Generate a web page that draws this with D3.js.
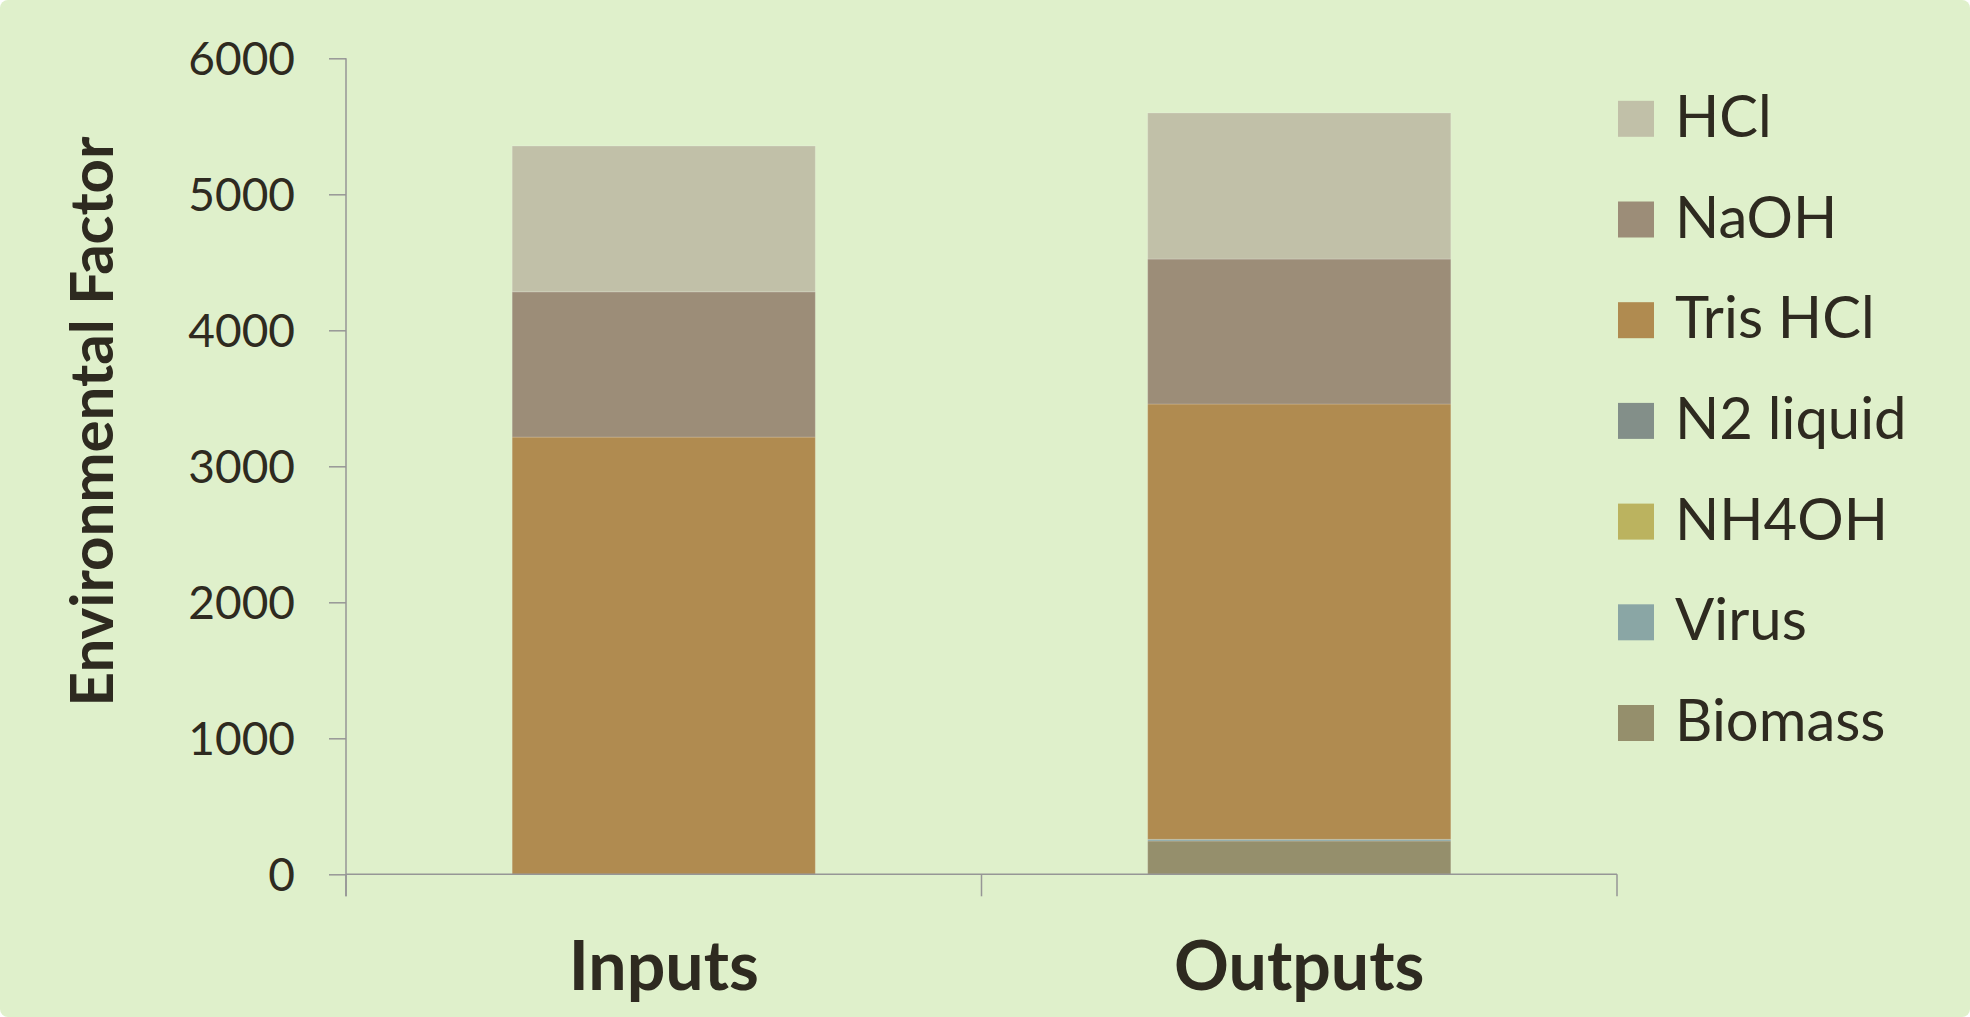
<!DOCTYPE html>
<html>
<head>
<meta charset="utf-8">
<script src="https://cdn.jsdelivr.net/npm/d3@7"></script>
<style>
  html, body { margin: 0; padding: 0; background: #ffffff; }
  svg { display: block; }
  text { font-family: Lato, "Open Sans", sans-serif; fill: #2e2a20; }
</style>
</head>
<body>
<script>
// ---- data ----
const categories = ["Inputs", "Outputs"];
const seriesNames = ["Biomass", "Virus", "NH4OH", "N2 liquid", "Tris HCl", "NaOH", "HCl"];
const biomass  = [0, 245];
const virus    = [0, 12];
const nh4oh    = [0, 0];
const n2liquid = [0, 0];
const trisHCl  = [3215, 3201];
const naoh     = [1068, 1066];
const hcl      = [1072, 1074];
const yTicks   = [0, 1000, 2000, 3000, 4000, 5000, 6000];
const seriesColors = ["#958f6c", "#8aa6a5", "#bbb35f", "#838f89", "#b08b50", "#9c8d78", "#c1c0a8"];

const W = 1970, H = 1017;
const svg = d3.select("body").append("svg").attr("width", W).attr("height", H);

svg.append("rect").attr("x", 0).attr("y", 0).attr("width", W).attr("height", H)
  .attr("rx", 8).attr("fill", "#dff0cb");

const values = [biomass, virus, nh4oh, n2liquid, trisHCl, naoh, hcl];
const rows = categories.map((c, i) => {
  const r = { category: c };
  seriesNames.forEach((s, k) => { r[s] = values[k][i]; });
  return r;
});
const stack = d3.stack().keys(seriesNames)(rows);

const x = d3.scaleBand().domain(categories).range([346, 1617])
  .paddingInner(0.523).paddingOuter(0.2615);
const y = d3.scaleLinear().domain([0, 6000]).range([874.3, 58.3]);
const color = d3.scaleOrdinal().domain(seriesNames).range(seriesColors);

// bars
const g = svg.append("g");
g.selectAll("g.series").data(stack).join("g")
  .attr("fill", d => color(d.key))
  .selectAll("rect").data(d => d).join("rect")
  .attr("x", d => x(d.data.category))
  .attr("width", x.bandwidth())
  .attr("y", d => y(d[1]))
  .attr("height", d => Math.max(0, y(d[0]) - y(d[1])))
  .attr("stroke", "#ffffff").attr("stroke-opacity", 0.18).attr("stroke-width", 1);

const axisColor = "#969696";

// y axis
const yAxis = svg.append("g").attr("transform", "translate(346,0)")
  .call(d3.axisLeft(y).tickValues(yTicks).tickFormat(d3.format("d")).tickSize(17).tickPadding(34));
yAxis.select(".domain").attr("stroke", axisColor).attr("stroke-width", 1.5)
  .attr("d", `M0,${y(6000)}V${y(0) + 22}`);
yAxis.selectAll(".tick line").attr("stroke", axisColor).attr("stroke-width", 1.5);
yAxis.selectAll(".tick text").style("font-size", "46px").attr("dy", "0.36em");

// x axis
const xEdges = [346, 346 + x.step(), 1617];
const xAxis = svg.append("g").attr("transform", `translate(0,${y(0)})`)
  .call(d3.axisBottom(x).tickSize(0).tickPadding(0).tickFormat(""));
xAxis.select(".domain").attr("stroke", axisColor).attr("stroke-width", 1.5)
  .attr("d", `M346,0H1617`);
xAxis.selectAll(".tick").remove();
xAxis.selectAll("line.edge").data(xEdges).join("line").attr("class", "edge")
  .attr("x1", d => d).attr("x2", d => d).attr("y1", 0).attr("y2", 22)
  .attr("stroke", axisColor).attr("stroke-width", 1.5);

// category labels
svg.selectAll("text.cat").data(categories).join("text").attr("class", "cat")
  .attr("x", d => x(d) + x.bandwidth() / 2)
  .attr("y", 990)
  .attr("text-anchor", "middle")
  .style("font-size", "68px").style("font-weight", "bold")
  .text(d => d);

// y title
svg.append("text")
  .attr("transform", "translate(113,421.5) rotate(-90)")
  .attr("text-anchor", "middle")
  .style("font-size", "60px").style("font-weight", "bold")
  .text("Environmental Factor");

// legend
const legendItems = seriesNames.slice().reverse();
const lg = svg.append("g");
const li = lg.selectAll("g").data(legendItems).join("g")
  .attr("transform", (d, i) => `translate(1618,${100.8 + i * 100.7})`);
li.append("rect").attr("width", 36).attr("height", 36).attr("fill", d => color(d));
li.append("text").attr("x", 57).attr("y", 36).style("font-size", "58px").text(d => d);
</script>
</body>
</html>
